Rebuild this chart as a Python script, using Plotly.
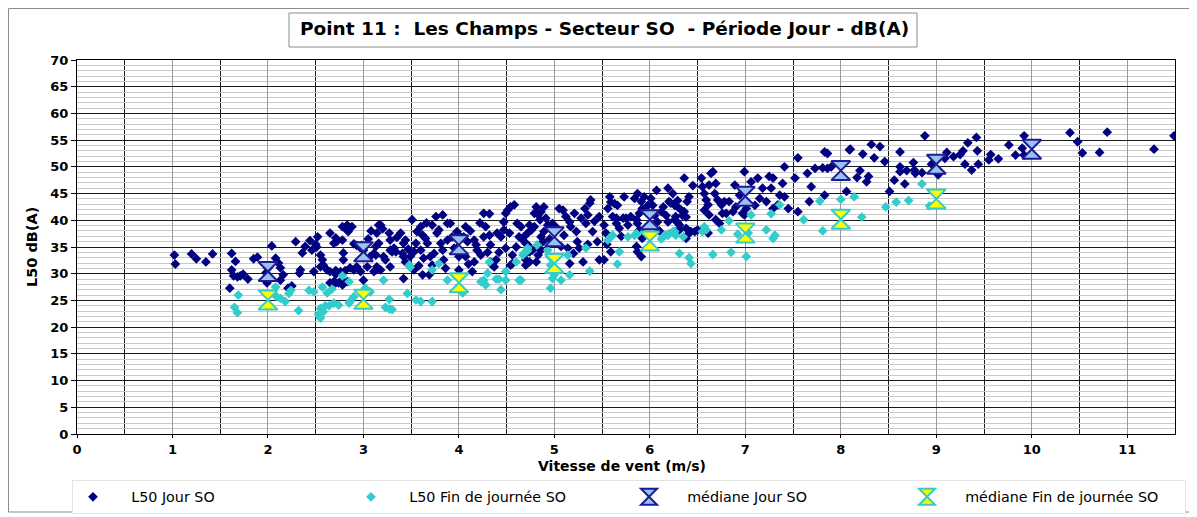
import plotly.graph_objects as go

# ---------------- data ----------------
# L50 Jour SO : (vitesse de vent m/s, L50 dB(A))
jour_points = [
    (1.02, 33.5), (1.03, 31.8), (1.2, 33.7), (1.25, 32.8), (1.35, 32.2), (1.42, 33.7),
    (1.62, 33.8), (1.66, 32.3), (1.62, 30.7), (1.64, 29.6), (1.68, 29.4), (1.71, 29.6), (1.74, 29.9),
    (1.6, 27.3), (1.79, 29.0), (1.85, 32.8), (1.89, 33.1), (1.99, 28.3),
    (2.04, 35.2), (2.13, 28.8), (2.16, 29.8), (2.13, 31.1), (2.11, 32.0), (2.08, 32.9), (2.21, 27.3),
    (2.25, 27.7), (2.29, 36.0), (2.36, 33.9), (2.39, 35.1), (2.44, 36.2), (2.46, 34.4), (2.34, 30.7),
    (2.33, 30.1), (2.48, 30.4), (2.0, 31.0), (1.98, 30.2),
    (2.52, 36.9), (2.5, 35.5), (2.51, 35.0), (2.55, 33.5), (2.57, 32.6), (2.58, 31.6), (2.55, 31.3),
    (2.62, 30.7), (2.65, 30.4), (2.71, 30.6), (2.71, 29.9), (2.76, 30.4), (2.81, 30.6), (2.65, 37.6),
    (2.71, 36.7), (2.72, 36.0), (2.69, 35.7), (2.78, 38.8), (2.81, 38.5), (2.84, 37.9), (2.88, 38.8),
    (2.83, 39.1), (2.78, 36.3), (2.79, 33.9), (2.79, 32.6), (2.9, 35.6), (2.93, 35.3), (2.96, 35.0),
    (3.0, 34.4), (2.98, 35.3), (2.86, 31.1), (2.9, 30.7), (2.97, 30.4), (2.93, 31.3), (2.78, 27.9),
    (2.74, 28.3), (2.71, 28.3), (2.65, 28.3), (2.69, 28.5), (2.83, 28.5), (2.8, 28.3), (2.76, 28.5),
    (3.0, 28.8),
    (3.04, 31.3), (3.11, 30.4), (3.14, 31.3), (3.13, 33.5), (3.14, 37.6), (3.13, 35.1), (3.07, 33.2),
    (3.16, 39.1), (3.18, 39.1), (3.16, 35.7), (3.11, 33.8), (3.21, 33.2), (3.23, 32.6), (3.18, 30.7),
    (3.13, 30.7), (3.27, 37.6), (3.28, 36.3), (3.28, 34.4), (3.3, 34.1), (3.32, 34.8), (3.34, 34.1),
    (3.28, 31.3), (3.39, 37.6), (3.42, 35.7), (3.44, 36.3), (3.41, 33.8), (3.42, 33.2), (3.44, 32.2),
    (3.42, 29.1), (3.05, 36.5), (3.08, 38.0), (3.2, 38.4), (3.35, 36.8), (3.47, 34.6),
    (3.51, 40.1), (3.53, 34.1), (3.55, 35.7), (3.49, 33.2), (3.53, 30.7), (3.6, 38.8), (3.56, 37.9),
    (3.62, 37.2), (3.6, 34.4), (3.63, 32.9), (3.62, 29.8), (3.69, 29.8), (3.65, 36.6), (3.67, 35.7),
    (3.7, 33.2), (3.72, 31.6), (3.74, 33.8), (3.76, 40.7), (3.83, 41.0), (3.72, 39.1), (3.77, 37.6),
    (3.79, 38.2), (3.81, 35.7), (3.83, 34.4), (3.84, 32.6), (3.86, 31.0), (3.88, 39.4), (3.91, 39.4),
    (3.93, 36.9), (3.88, 36.3), (3.95, 34.8), (3.98, 37.9), (3.98, 34.8), (3.58, 31.5), (3.66, 39.5),
    (4.02, 36.9), (4.05, 36.9), (4.07, 38.8), (4.09, 36.0), (4.0, 33.2), (4.0, 30.7), (4.07, 33.2),
    (4.16, 36.3), (4.18, 35.4), (4.19, 34.4), (4.16, 32.2), (4.14, 30.4), (4.23, 33.5), (4.26, 36.9),
    (4.26, 41.3), (4.32, 41.2), (4.28, 38.8), (4.32, 37.2), (4.33, 35.4), (4.33, 32.2), (4.35, 31.6),
    (4.37, 31.3), (4.39, 32.6), (4.4, 37.6), (4.44, 36.9), (4.47, 39.7), (4.49, 41.3), (4.47, 38.2),
    (4.49, 34.8), (4.12, 38.0), (4.22, 39.5), (4.3, 34.0), (4.42, 34.0), (4.1, 31.8),
    (4.51, 41.9), (4.54, 42.5), (4.58, 42.9), (4.53, 37.6), (4.56, 33.5), (4.56, 31.9), (4.54, 31.6),
    (4.61, 39.4), (4.63, 36.9), (4.67, 36.3), (4.72, 35.4), (4.72, 37.6), (4.7, 32.6), (4.74, 34.1),
    (4.65, 38.8), (4.68, 36.9), (4.7, 35.7), (4.72, 34.1), (4.74, 39.1), (4.76, 38.2), (4.79, 38.8),
    (4.81, 42.5), (4.79, 41.3), (4.83, 41.0), (4.85, 40.1), (4.7, 31.6), (4.74, 32.2), (4.81, 32.2),
    (4.83, 33.5), (4.77, 34.4), (4.86, 41.6), (4.89, 42.5), (4.91, 40.4), (4.93, 39.1), (4.89, 37.9),
    (4.86, 36.9), (4.88, 36.0), (4.86, 34.4), (4.98, 39.4), (4.6, 35.0), (4.95, 36.5),
    (5.0, 38.8), (5.03, 38.5), (5.05, 42.2), (5.09, 41.9), (5.07, 35.1), (5.14, 34.8), (5.16, 31.9),
    (5.12, 40.7), (5.16, 39.7), (5.17, 38.8), (5.21, 41.3), (5.23, 37.9), (5.24, 36.0), (5.26, 34.8),
    (5.3, 32.2), (5.28, 40.4), (5.32, 42.2), (5.33, 39.4), (5.35, 41.0), (5.37, 43.2), (5.38, 43.8),
    (5.4, 37.9), (5.45, 36.0), (5.47, 32.6), (5.47, 40.7), (5.1, 37.2), (5.2, 33.8), (5.42, 39.8),
    (5.35, 35.5),
    (5.52, 39.1), (5.54, 37.6), (5.56, 42.2), (5.58, 44.4), (5.59, 43.4), (5.63, 43.1), (5.66, 42.8),
    (5.61, 40.7), (5.65, 40.4), (5.65, 39.4), (5.68, 38.5), (5.58, 36.9), (5.59, 34.1), (5.72, 40.4),
    (5.75, 40.4), (5.73, 44.4), (5.77, 39.1), (5.8, 40.7), (5.84, 44.1), (5.87, 45.0), (5.91, 43.5),
    (5.94, 44.4), (5.92, 42.2), (5.89, 41.3), (5.86, 40.1), (5.87, 39.4), (5.89, 38.2), (5.87, 34.1),
    (5.92, 36.6), (5.98, 42.8), (5.86, 35.1), (5.91, 33.2), (5.52, 32.6), (5.7, 37.0), (5.55, 35.5),
    (6.01, 44.1), (6.03, 42.8), (6.07, 45.6), (6.05, 40.9), (6.08, 39.7), (6.12, 41.6), (6.14, 42.5),
    (6.19, 46.0), (6.2, 43.5), (6.24, 45.0), (6.26, 42.8), (6.29, 43.7), (6.27, 40.7), (6.31, 38.2),
    (6.19, 39.7), (6.17, 40.9), (6.22, 43.2), (6.29, 42.5), (6.33, 41.9), (6.34, 40.9), (6.38, 40.6),
    (6.36, 41.6), (6.41, 44.4), (6.39, 43.5), (6.26, 40.1), (6.29, 39.6), (6.31, 39.1), (6.38, 38.5),
    (6.39, 37.2), (6.27, 37.9), (6.43, 37.9), (6.47, 37.9), (6.36, 47.9), (6.38, 36.6), (6.1, 38.0),
    (6.45, 46.5),
    (6.5, 38.2), (6.55, 38.2), (6.54, 47.9), (6.55, 46.3), (6.57, 45.0), (6.59, 43.8), (6.61, 42.9),
    (6.57, 41.9), (6.62, 41.0), (6.64, 48.8), (6.66, 49.1), (6.69, 46.9), (6.62, 46.6), (6.68, 45.0),
    (6.71, 43.8), (6.75, 42.9), (6.78, 43.5), (6.76, 41.3), (6.8, 41.3), (6.83, 43.5), (6.87, 41.6),
    (6.89, 46.6), (6.9, 42.5), (6.94, 44.7), (6.99, 49.1), (6.97, 41.3), (6.61, 37.6), (6.69, 40.1),
    (6.73, 39.4), (6.99, 41.0),
    (7.01, 42.2), (7.06, 47.2), (7.13, 47.9), (7.15, 44.1), (7.18, 46.0), (7.22, 43.5), (7.25, 48.2),
    (7.29, 47.9), (7.27, 46.0), (7.29, 42.2), (7.34, 42.9), (7.36, 44.7), (7.41, 50.0), (7.41, 44.4),
    (7.45, 42.2), (7.39, 46.9), (7.1, 42.8),
    (7.52, 47.9), (7.55, 41.6), (7.55, 51.7), (7.65, 48.8), (7.67, 43.5), (7.69, 46.3), (7.73, 49.7),
    (7.81, 49.8), (7.83, 44.7), (7.83, 52.8), (7.86, 52.5), (7.86, 49.7), (7.9, 50.0),
    (8.06, 45.4), (8.09, 53.2), (8.1, 53.3), (8.23, 52.4), (8.32, 54.2), (8.41, 53.8), (8.35, 51.7),
    (8.46, 51.0), (8.2, 49.3), (8.17, 48.0), (8.29, 48.2), (8.27, 47.2),
    (8.51, 45.4), (8.56, 47.5), (8.67, 46.8), (8.62, 50.0), (8.62, 49.1), (8.69, 49.3), (8.76, 50.8),
    (8.77, 49.4), (8.78, 48.8), (8.85, 48.9), (8.62, 52.8), (8.88, 55.8), (8.95, 50.5),
    (9.02, 48.5), (9.09, 51.6), (9.11, 52.7), (9.18, 51.9), (9.25, 52.3), (9.28, 53.0), (9.33, 54.5),
    (9.3, 50.5), (9.37, 49.4), (9.43, 53.0), (9.42, 55.5), (9.44, 50.5),
    (9.55, 51.3), (9.57, 52.3), (9.65, 51.5), (9.76, 54.1), (9.83, 52.2), (9.9, 53.5), (9.92, 55.8),
    (9.92, 52.2), (10.4, 56.4), (10.48, 54.7), (10.53, 52.6), (10.71, 52.7), (10.79, 56.5),
    (11.28, 53.3), (11.49, 55.8),
]

# L50 Fin de journée SO
fin_points = [
    (1.69, 26.0), (1.65, 23.7), (1.68, 22.7), (2.08, 27.5), (2.09, 25.7), (2.13, 25.4), (2.18, 24.8),
    (2.22, 26.3), (2.24, 26.9), (2.32, 23.1), (2.43, 26.9), (2.48, 26.6), (2.57, 27.5), (2.62, 26.4),
    (2.67, 27.1), (2.55, 23.5), (2.6, 24.0), (2.64, 24.0), (2.55, 21.7), (2.69, 24.5), (2.74, 24.1),
    (2.85, 24.5), (2.9, 25.7), (2.78, 29.6), (2.85, 28.5), (3.02, 27.3), (3.07, 26.6), (2.53, 22.4),
    (2.58, 22.9), (2.86, 24.8),
    (3.21, 28.8), (3.27, 25.2), (3.23, 23.7), (3.27, 23.4), (3.3, 23.3), (3.48, 31.6), (3.49, 31.2),
    (3.46, 26.3), (3.55, 25.1), (3.6, 24.8), (3.72, 24.8), (3.72, 30.7), (3.79, 31.9), (3.88, 28.8),
    (4.04, 26.4),
    (4.23, 28.5), (4.26, 28.8), (4.28, 27.9), (4.32, 32.2), (4.3, 30.1), (4.39, 29.0), (4.42, 29.0),
    (4.44, 27.0), (4.49, 28.8), (4.49, 30.4), (4.6, 32.2), (4.63, 28.8), (4.68, 33.8), (4.72, 34.8),
    (4.65, 28.8), (4.67, 33.5), (4.72, 34.3), (4.82, 35.4), (4.93, 34.4), (4.95, 33.2), (4.96, 31.6),
    (4.98, 29.1), (5.0, 29.8), (5.02, 30.4), (5.07, 28.8), (4.96, 27.3), (5.14, 33.5), (5.16, 29.8),
    (5.33, 34.8), (5.37, 30.5),
    (5.56, 36.3), (5.59, 36.9), (5.61, 37.2), (5.68, 34.1), (5.66, 31.8), (5.77, 36.9), (5.84, 37.2),
    (5.86, 37.5), (6.12, 36.5), (6.16, 37.2), (6.19, 37.2), (6.2, 37.5), (6.26, 37.9), (6.31, 33.8),
    (6.24, 37.9), (6.27, 37.2), (6.35, 36.9), (6.57, 38.8), (6.55, 37.9), (6.59, 38.2), (6.75, 38.2),
    (6.83, 39.9), (6.92, 37.4), (7.03, 37.6), (7.06, 41.0), (7.22, 38.2), (7.31, 37.2), (7.29, 36.6),
    (7.36, 42.9), (7.61, 40.1), (7.78, 43.6), (7.81, 38.0), (6.41, 33.0), (6.43, 31.9), (6.66, 33.6),
    (6.85, 34.0), (7.01, 33.2), (7.27, 41.2),
    (8.0, 43.9), (8.14, 44.4), (8.22, 40.6), (8.47, 42.5), (8.58, 43.4), (8.71, 43.7), (8.85, 46.8),
    (8.93, 42.7),
]

mediane_jour_vent = [2, 3, 4, 5, 6, 7, 8, 9, 10]
mediane_jour_l50 = [30.4, 34.1, 35.4, 36.9, 40.1, 44.5, 49.3, 50.5, 53.3]
mediane_fin_vent = [2, 3, 4, 5, 6, 7, 8, 9]
mediane_fin_l50 = [25.1, 25.2, 28.3, 31.9, 36.1, 37.6, 40.2, 44.0]

x_ticks = list(range(0, 12))
y_ticks = list(range(0, 75, 5))

# ---------------- figure ----------------
OFF = 8                       # the page body adds 8 px around the figure
W, H = 1189, 530
L, R, T, B = 69, 1167, 52, 426          # plot area, figure pixels
PW, PH = R - L, B - T


def px_x(page_x):
    return (page_x - OFF - L) / PW


def px_y(page_y):
    return (B - (page_y - OFF)) / PH


FONT = "DejaVu Sans"
NBSP = "\u00a0" * 4

fig = go.Figure()
fig.add_trace(go.Scatter(
    x=[p[0] for p in jour_points], y=[p[1] for p in jour_points],
    mode="markers", name=NBSP + "L50 Jour SO",
    marker=dict(symbol="diamond", size=7.5, color="#000080", line=dict(width=0)),
))
fig.add_trace(go.Scatter(
    x=[p[0] for p in fin_points], y=[p[1] for p in fin_points],
    mode="markers", name=NBSP + "L50 Fin de journée SO",
    marker=dict(symbol="diamond", size=7.5, color="#33cccc", line=dict(width=0)),
))
fig.add_trace(go.Scatter(
    x=mediane_jour_vent, y=mediane_jour_l50,
    mode="markers", name=NBSP + "médiane Jour SO",
    marker=dict(symbol="hourglass", size=19, color="#99c2f2",
                line=dict(width=2, color="#1c1c94")),
))
fig.add_trace(go.Scatter(
    x=mediane_fin_vent, y=mediane_fin_l50,
    mode="markers", name=NBSP + "médiane Fin de journée SO",
    marker=dict(symbol="hourglass", size=19, color="#ffff00",
                line=dict(width=2, color="#33cccc")),
))

tickfont = dict(family=FONT, size=13, color="#000000", weight="bold")
axis_common = dict(
    showline=True, linecolor="#000000", linewidth=1, mirror=True,
    zeroline=False, ticks="outside", tickcolor="#000000", tickfont=tickfont,
)

fig.update_xaxes(
    range=[0, 11.5], tickvals=x_ticks, ticktext=[str(v) for v in x_ticks],
    showgrid=True, gridcolor="#9a9a9a", gridwidth=1, ticklen=3,
    minor=dict(tick0=0.5, dtick=1, showgrid=True, gridcolor="#1a1a1a", gridwidth=1, ticks=""),
    **axis_common,
)
fig.update_yaxes(
    range=[0, 70], tickvals=y_ticks, ticktext=[str(v) for v in y_ticks],
    showgrid=True, gridcolor="#1a1a1a", gridwidth=1, ticklen=5,
    minor=dict(tick0=0, dtick=1, showgrid=True, gridcolor="#c8c8c8", gridwidth=1, ticks=""),
    **axis_common,
)

shapes = [
    # outer frame of the chart
    dict(type="rect", xref="paper", yref="paper",
         x0=px_x(OFF + 0.5), x1=px_x(1192), y0=px_y(512), y1=px_y(OFF + 0.5),
         line=dict(color="#8c8c8c", width=1), layer="below"),
    # title box
    dict(type="rect", xref="paper", yref="paper",
         x0=px_x(289), x1=px_x(917), y0=px_y(47), y1=px_y(13),
         line=dict(color="#8c8c8c", width=1)),
]

annotations = [
    dict(text="<b>Point 11 :  Les Champs - Secteur SO  - Période Jour - dB(A)</b>",
         xref="paper", yref="paper", x=px_x(604), y=px_y(29),
         xanchor="center", yanchor="middle", showarrow=False,
         font=dict(family=FONT, size=18.5, color="#000000")),
    dict(text="<b>Vitesse de vent (m/s)</b>",
         xref="paper", yref="paper", x=px_x(622), y=px_y(466),
         xanchor="center", yanchor="middle", showarrow=False,
         font=dict(family=FONT, size=14, color="#000000")),
    dict(text="<b>L50 dB(A)</b>", textangle=-90,
         xref="paper", yref="paper", x=px_x(32), y=px_y(247),
         xanchor="center", yanchor="middle", showarrow=False,
         font=dict(family=FONT, size=14.5, color="#000000")),
]

fig.update_layout(
    width=W, height=H,
    margin=dict(l=L, r=W - R, t=T, b=H - B),
    paper_bgcolor="#ffffff", plot_bgcolor="#ffffff",
    font=dict(family=FONT, size=13, color="#000000"),
    showlegend=True,
    legend=dict(
        orientation="h", x=px_x(72), y=px_y(480), xanchor="left", yanchor="top",
        bordercolor="#e4e4e4", borderwidth=1, bgcolor="#ffffff",
        entrywidth=233, entrywidthmode="pixels",
        font=dict(family=FONT, size=14.3, color="#000000"),
        itemsizing="trace",
    ),
    shapes=shapes, annotations=annotations,
)

fig.write_html("out.html")
